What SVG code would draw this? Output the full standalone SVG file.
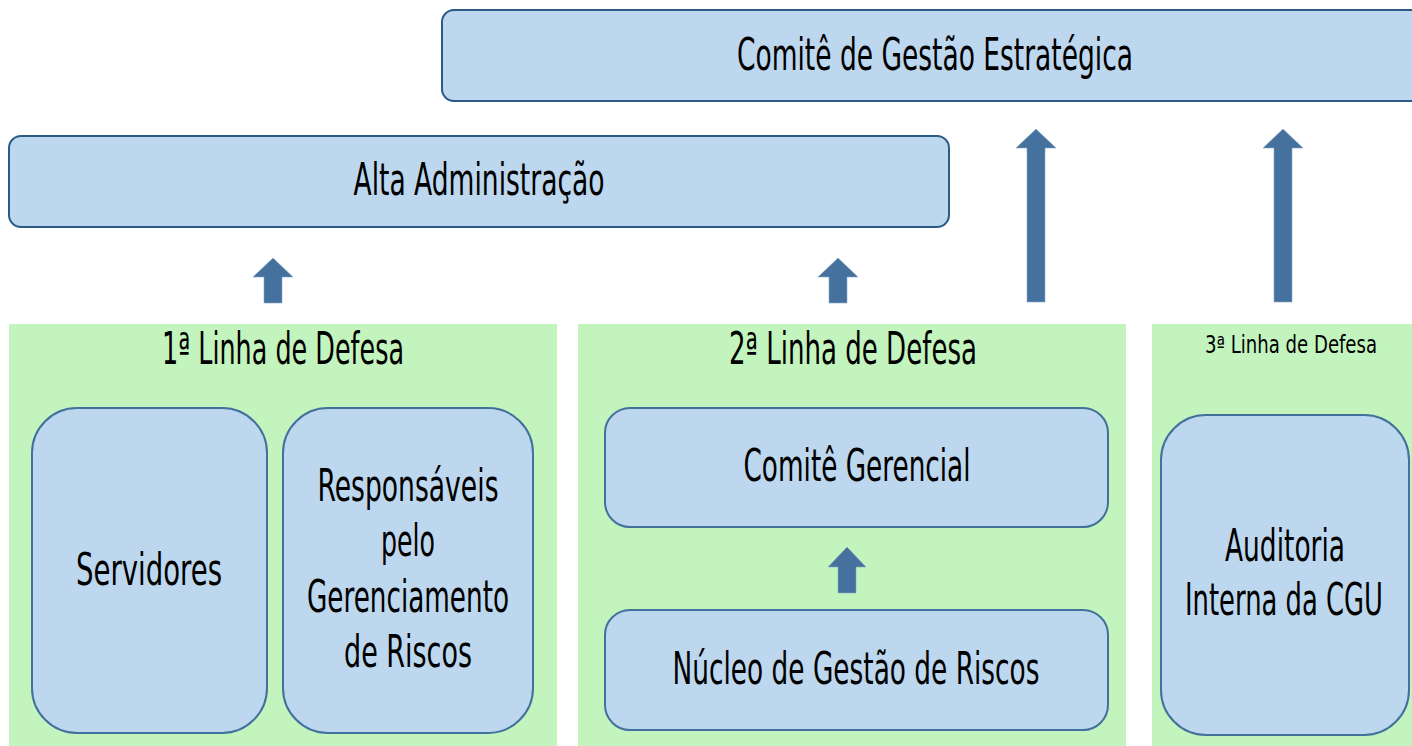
<svg xmlns="http://www.w3.org/2000/svg" width="1412" height="746" viewBox="0 0 1412 746">
<style>
.top{fill:#bdd7ee;stroke:#2c5a86;stroke-width:2}
.box{fill:#bdd7ee;stroke:#41719c;stroke-width:2}
.panel{fill:#c4f4be}
.arr{fill:#44719d;stroke:#8aa9c6;stroke-width:0.6}
text{font-family:"Liberation Sans Narrow","DejaVu Sans Condensed","Liberation Sans",sans-serif;fill:#000;text-anchor:middle;font-size:44px}
.sm{font-size:24px}
</style>
<rect width="1412" height="746" fill="#ffffff"/>
<g id="comite-estrategico">
<rect class="top" x="442" y="10" width="990" height="91" rx="12"/>
<text x="935" y="70" textLength="396" lengthAdjust="spacingAndGlyphs">Comitê de Gestão Estratégica</text>
</g>
<g id="alta-administracao">
<rect class="top" x="9" y="136" width="940" height="91" rx="12"/>
<text x="479" y="195" textLength="251" lengthAdjust="spacingAndGlyphs">Alta Administração</text>
</g>
<g id="linha1">
<rect class="panel" x="9" y="324" width="548" height="422"/>
<text x="283" y="364" textLength="242" lengthAdjust="spacingAndGlyphs">1ª Linha de Defesa</text>
</g>
<g id="servidores">
<rect class="box" x="32" y="408" width="235" height="325" rx="45"/>
<text x="149" y="585" textLength="146" lengthAdjust="spacingAndGlyphs">Servidores</text>
</g>
<g id="responsaveis">
<rect class="box" x="283" y="408" width="250" height="325" rx="45"/>
<text x="408" y="501" textLength="181" lengthAdjust="spacingAndGlyphs">Responsáveis</text>
<text x="408" y="556" textLength="54" lengthAdjust="spacingAndGlyphs">pelo</text>
<text x="408" y="612" textLength="202" lengthAdjust="spacingAndGlyphs">Gerenciamento</text>
<text x="408" y="667" textLength="128" lengthAdjust="spacingAndGlyphs">de Riscos</text>
</g>
<g id="linha2">
<rect class="panel" x="578" y="324" width="548" height="422"/>
<text x="853" y="364" textLength="248" lengthAdjust="spacingAndGlyphs">2ª Linha de Defesa</text>
</g>
<g id="comite-gerencial">
<rect class="box" x="605" y="408" width="503" height="119" rx="25"/>
<text x="857" y="481" textLength="227" lengthAdjust="spacingAndGlyphs">Comitê Gerencial</text>
</g>
<g id="nucleo">
<rect class="box" x="605" y="610" width="503" height="120" rx="25"/>
<text x="856" y="684" textLength="367" lengthAdjust="spacingAndGlyphs">Núcleo de Gestão de Riscos</text>
</g>
<g id="linha3">
<rect class="panel" x="1152" y="324" width="260" height="422"/>
<text class="sm" x="1291" y="353" textLength="172" lengthAdjust="spacingAndGlyphs">3ª Linha de Defesa</text>
</g>
<g id="auditoria">
<rect class="box" x="1161" y="415" width="248" height="320" rx="45"/>
<text x="1285" y="561" textLength="120" lengthAdjust="spacingAndGlyphs">Auditoria</text>
<text x="1284" y="615" textLength="198" lengthAdjust="spacingAndGlyphs">Interna da CGU</text>
</g>
<g id="connectors">
<polygon class="arr" points="273,258 293,277 282,277 282,303 264,303 264,277 253,277"/>
<polygon class="arr" points="838,258 858,277 847,277 847,303 829,303 829,277 818,277"/>
<polygon class="arr" points="1036,129 1056,148 1045,148 1045,302 1027,302 1027,148 1016,148"/>
<polygon class="arr" points="1283,129 1303,148 1292,148 1292,302 1274,302 1274,148 1263,148"/>
<polygon class="arr" points="847,547 866,567 856,567 856,593 838,593 838,567 828,567"/>
</g>
</svg>
